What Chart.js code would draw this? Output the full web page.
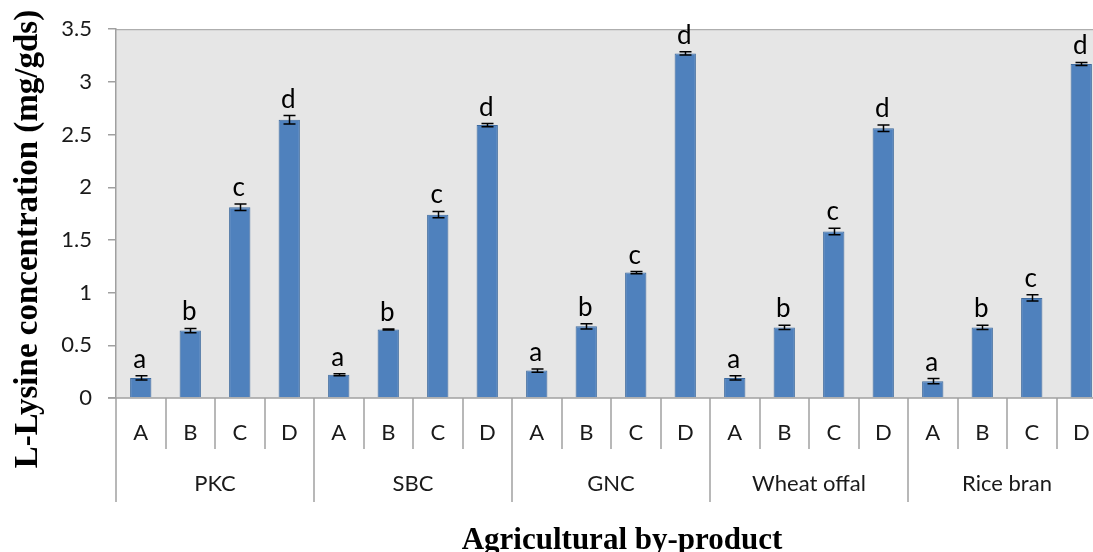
<!DOCTYPE html>
<html>
<head>
<meta charset="utf-8">
<script src="https://cdn.jsdelivr.net/npm/chart.js@4"></script>
<style>
  html, body { margin: 0; padding: 0; background: #fff; overflow: hidden; }
  #wrap { width: 1106px; height: 552px; }
</style>
</head>
<body>
<div id="wrap"><canvas id="c" width="1106" height="552"></canvas></div>
<script>
// ---- data ----
const groups = ["PKC", "SBC", "GNC", "Wheat offal", "Rice bran"];
const treatments = ["A", "B", "C", "D"];
const values = [
  0.19, 0.64, 1.81, 2.64,
  0.22, 0.65, 1.74, 2.59,
  0.26, 0.68, 1.19, 3.27,
  0.19, 0.67, 1.58, 2.56,
  0.16, 0.67, 0.95, 3.17
];
const errors = [
  0.02, 0.02, 0.03, 0.04,
  0.01, 0.005, 0.03, 0.015,
  0.015, 0.025, 0.01, 0.015,
  0.02, 0.02, 0.03, 0.03,
  0.025, 0.02, 0.03, 0.015
];
const letters = [
  "a", "b", "c", "d",
  "a", "b", "c", "d",
  "a", "b", "c", "d",
  "a", "b", "c", "d",
  "a", "b", "c", "d"
];
const yTicks = [0, 0.5, 1, 1.5, 2, 2.5, 3, 3.5];
const yTitle = "L-Lysine concentration (mg/gds)";
const xTitle = "Agricultural by-product";

const labels = [];
groups.forEach(g => treatments.forEach(t => labels.push(t)));

const AXIS = "#a0a0a0";
const TXT = "#1a1a1a";
const SANS = "Lato, 'Open Sans', sans-serif";
const SERIF = "'Liberation Serif', 'DejaVu Serif', serif";

const decor = {
  id: "decor",
  beforeDraw(chart) {
    const { ctx, chartArea: a } = chart;
    ctx.save();
    ctx.fillStyle = "#e6e6e6";
    ctx.fillRect(a.left, a.top, a.right - a.left, a.bottom - a.top);
    ctx.strokeStyle = AXIS;
    ctx.lineWidth = 1;
    ctx.beginPath();
    ctx.moveTo(a.left, a.top + 0.5);
    ctx.lineTo(a.right, a.top + 0.5);
    ctx.stroke();
    ctx.restore();
  },
  afterDatasetsDraw(chart) {
    const { ctx } = chart;
    const xs = chart.scales.x, ys = chart.scales.y;
    ctx.save();
    // error bars
    ctx.strokeStyle = "#000";
    ctx.lineWidth = 1.5;
    values.forEach((v, i) => {
      const x = Math.round(xs.getPixelForValue(i)) + 0.5;
      const yT = ys.getPixelForValue(v + errors[i]);
      const yB = ys.getPixelForValue(v - errors[i]);
      ctx.beginPath();
      ctx.moveTo(x, yT); ctx.lineTo(x, yB);
      ctx.moveTo(x - 6, yT); ctx.lineTo(x + 6, yT);
      ctx.moveTo(x - 6, yB); ctx.lineTo(x + 6, yB);
      ctx.stroke();
    });
    // significance letters
    ctx.fillStyle = "#000";
    ctx.font = "26px " + SANS;
    ctx.textAlign = "center";
    ctx.textBaseline = "alphabetic";
    values.forEach((v, i) => {
      const x = xs.getPixelForValue(i) - 1;
      const y = ys.getPixelForValue(v + errors[i]) - 8;
      ctx.fillText(letters[i], x, y);
    });
    ctx.restore();
  },
  afterDraw(chart) {
    const { ctx, chartArea: a } = chart;
    const xs = chart.scales.x;
    const n = labels.length;
    const bottom = a.bottom;
    ctx.save();
    ctx.strokeStyle = AXIS;
    ctx.lineWidth = 1.5;
    // x axis line
    ctx.beginPath();
    ctx.moveTo(a.left - 8, bottom);
    ctx.lineTo(a.right, bottom);
    ctx.stroke();
    // separators
    for (let i = 0; i <= n; i++) {
      let x;
      if (i === 0) x = a.left;
      else if (i === n) x = a.right;
      else x = (xs.getPixelForValue(i - 1) + xs.getPixelForValue(i)) / 2;
      x = Math.round(x);
      const len = (i % treatments.length === 0) ? 104 : 51;
      ctx.beginPath();
      ctx.moveTo(x, bottom);
      ctx.lineTo(x, bottom + len);
      ctx.stroke();
    }
    // level-1 labels
    ctx.fillStyle = TXT;
    ctx.font = "22px " + SANS;
    ctx.textAlign = "center";
    ctx.textBaseline = "middle";
    labels.forEach((t, i) => {
      ctx.fillText(t, xs.getPixelForValue(i), bottom + 35);
    });
    // level-2 group labels
    groups.forEach((g, gi) => {
      const i0 = gi * treatments.length;
      const i1 = i0 + treatments.length - 1;
      const x = (xs.getPixelForValue(i0) + xs.getPixelForValue(i1)) / 2;
      ctx.fillText(g, x, bottom + 86);
    });
    // axis titles
    ctx.fillStyle = "#000";
    ctx.textBaseline = "alphabetic";
    ctx.font = "bold 31px " + SERIF;
    ctx.fillText(xTitle, 622, 549);
    ctx.font = "bold 33px " + SERIF;
    ctx.translate(37, 239);
    ctx.rotate(-Math.PI / 2);
    ctx.fillText(yTitle, 0, 0);
    ctx.restore();
  }
};

new Chart(document.getElementById("c"), {
  type: "bar",
  data: {
    labels: labels,
    datasets: [{
      data: values,
      backgroundColor: "#4f81bd",
      borderColor: "#3d6a9e",
      borderWidth: 1,
      categoryPercentage: 1.0,
      barPercentage: 0.43
    }]
  },
  options: {
    responsive: false,
    animation: false,
    events: [],
    layout: { padding: { top: 29, bottom: 154, left: 0, right: 0 } },
    plugins: { legend: { display: false }, tooltip: { enabled: false } },
    scales: {
      x: { display: false, offset: true },
      y: {
        min: 0, max: 3.5,
        afterFit(s) { s.width = 116; },
        afterBuildTicks(s) { s.ticks = yTicks.map(v => ({ value: v })); },
        ticks: { color: TXT, font: { family: SANS, size: 22 }, padding: 16,
                 callback: v => String(v) },
        grid: { drawOnChartArea: false, drawTicks: true, tickLength: 8, color: AXIS, lineWidth: 1.5 },
        border: { display: true, color: AXIS, width: 1.5 }
      }
    }
  },
  plugins: [decor]
});
</script>
</body>
</html>
